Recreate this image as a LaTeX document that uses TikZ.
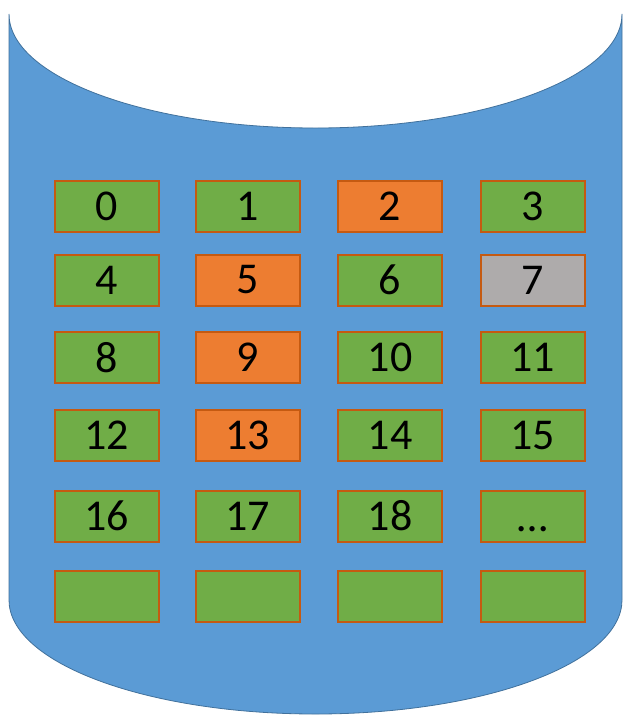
\documentclass[tikz,border=0pt]{standalone}
\usepackage{fontspec}
\setmainfont{Carlito}
\definecolor{cylblue}{HTML}{5B9BD5}
\definecolor{cyledge}{HTML}{41719C}
\definecolor{boxgreen}{HTML}{70AD47}
\definecolor{boxorange}{HTML}{ED7D31}
\definecolor{boxgray}{HTML}{AEABAB}
\definecolor{boxedge}{HTML}{C55A11}
\tikzset{
  cell/.style={draw=boxedge, line width=2pt, fill=boxgreen, minimum width=104pt, minimum height=51pt, inner sep=0pt, font=\fontsize{44}{48}\selectfont, text=black},
  hot/.style={cell, fill=boxorange},
  idle/.style={cell, fill=boxgray}
}
\begin{document}
\begin{tikzpicture}[x=1pt,y=-1pt]
\useasboundingbox (0,0) rectangle (629,716);
\fill[white] (0,0) rectangle (629,716);
\draw[cyledge, fill=cylblue, line width=0.8pt] (9,14) -- (9,600)
  arc[start angle=180, end angle=0, x radius=306.5, y radius=114]
  -- (622,14)
  arc[start angle=0, end angle=180, x radius=306.5, y radius=114] -- cycle;
% row 0
\node[cell] (c0) at (106.5,206) {0};
\node[cell] (c1) at (247.5,206) {1};
\node[hot]  (c2) at (390,206) {2};
\node[cell] (c3) at (532.5,206) {3};
% row 1
\node[cell] (c4) at (106.5,280) {4};
\node[hot]  (c5) at (247.5,280) {5};
\node[cell] (c6) at (390,280) {6};
\node[idle] (c7) at (532.5,280) {7};
% row 2
\node[cell] (c8) at (106.5,357.5) {8};
\node[hot]  (c9) at (247.5,357.5) {9};
\node[cell] (c10) at (390,357.5) {10};
\node[cell] (c11) at (532.5,357.5) {11};
% row 3
\node[cell] (c12) at (106.5,435) {12};
\node[hot]  (c13) at (247.5,435) {13};
\node[cell] (c14) at (390,435) {14};
\node[cell] (c15) at (532.5,435) {15};
% row 4
\node[cell] (c16) at (106.5,516) {16};
\node[cell] (c17) at (247.5,516) {17};
\node[cell] (c18) at (390,516) {18};
\node[cell] (c19) at (532.5,516) {\smash{\raisebox{-15pt}{\ldots}}};
% row 5
\node[cell] (c20) at (106.5,596) {};
\node[cell] (c21) at (247.5,596) {};
\node[cell] (c22) at (390,596) {};
\node[cell] (c23) at (532.5,596) {};
\end{tikzpicture}
\end{document}
